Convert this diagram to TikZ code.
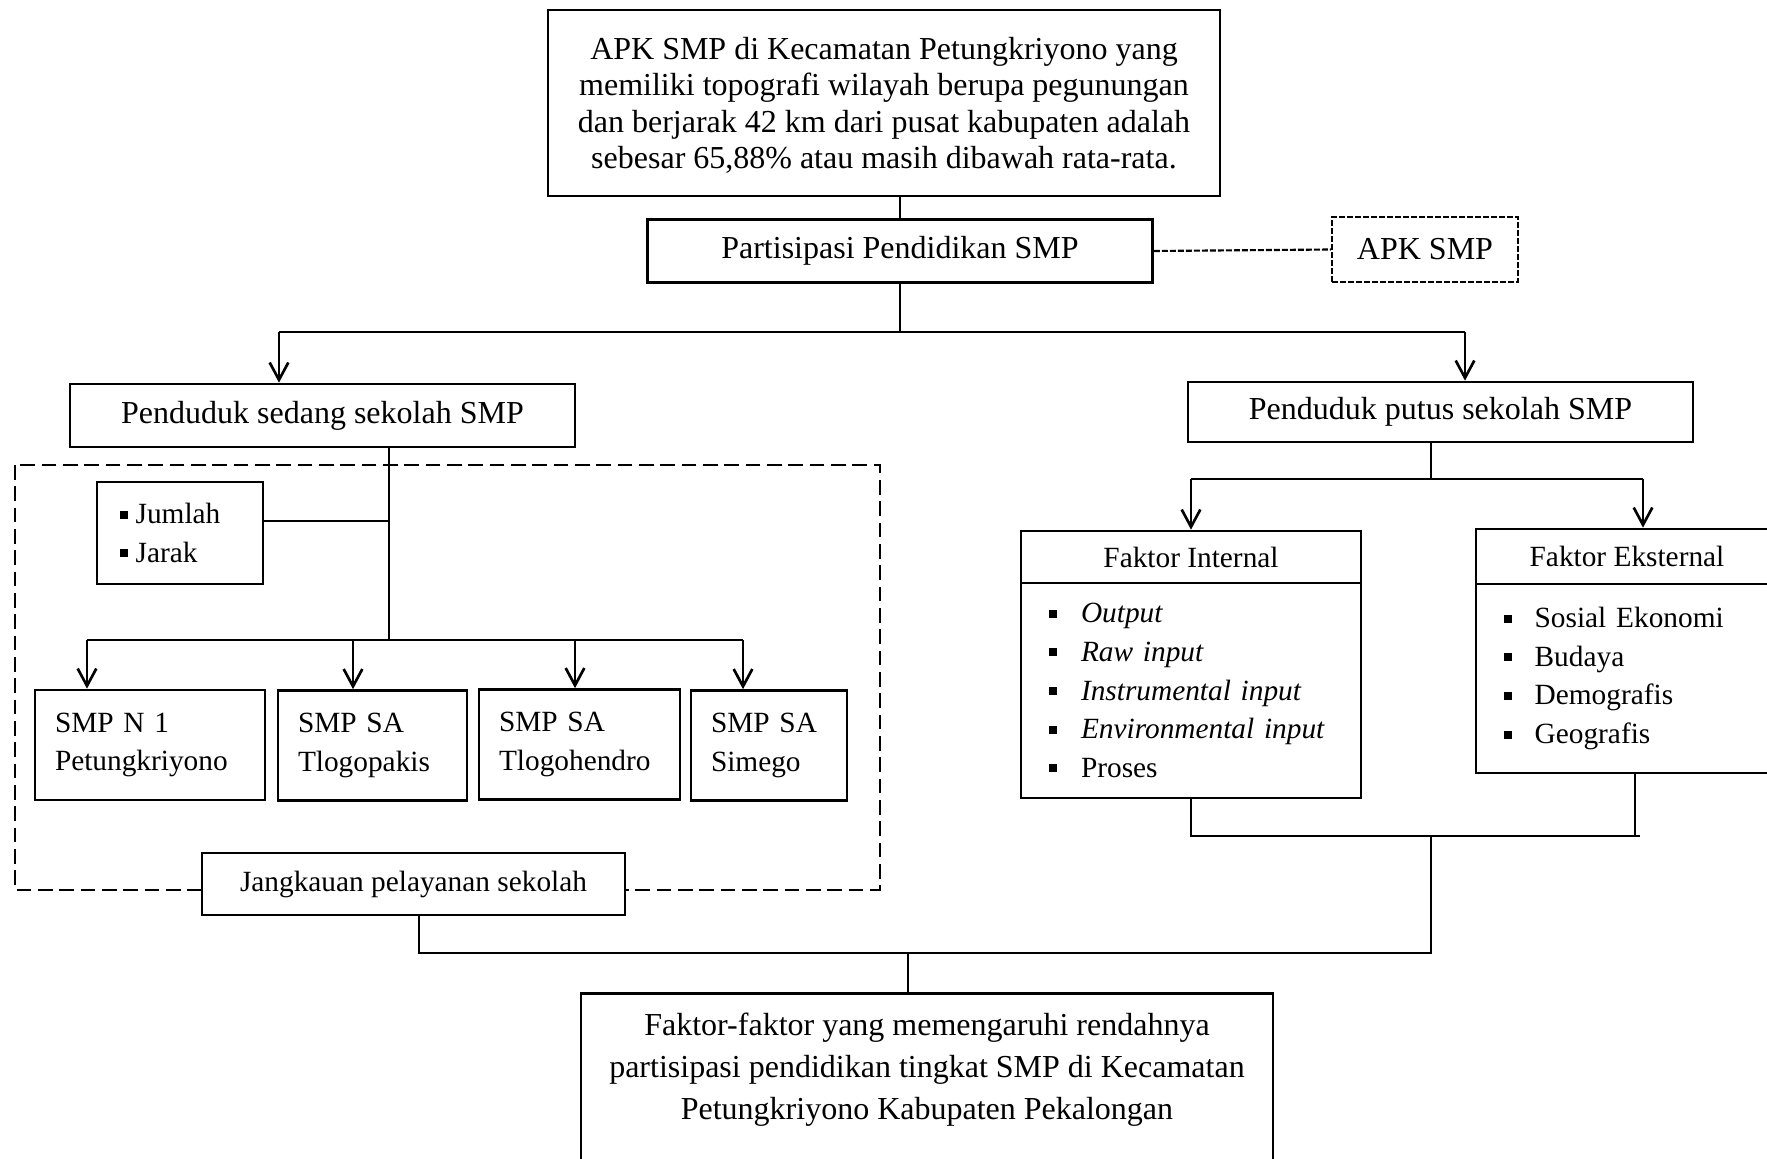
\documentclass[tikz,border=0pt]{standalone}
\usepackage{fontspec}
\setmainfont{Liberation Serif}
\usetikzlibrary{arrows.meta}

\tikzset{every picture/.style={line width=0.75pt}}
\tikzset{
  box/.style={draw, line width=2pt, fill=white, align=center, inner sep=0pt},
  bigtxt/.style={font=\fontsize{24}{26.8}\selectfont},
  smalltxt/.style={font=\fontsize{22}{29}\selectfont},
  leftbox/.style={box, align=left, inner ysep=0pt},
  arr/.style={line width=2pt, -{Straight Barb[length=13pt,width=14pt,line width=2pt]}},
  conn/.style={line width=2pt},
  zone/.style={line width=2pt, dash pattern=on 11pt off 5pt},
  fine/.style={line width=1.6pt, dash pattern=on 4.5pt off 1.5pt},
}
\newcommand{\sqb}[1][24pt]{\makebox[#1][l]{\rule[0.17em]{0.27em}{0.27em}}}

\begin{document}
\begin{tikzpicture}[x=0.75pt,y=0.75pt,yscale=-1,xscale=1]
\useasboundingbox (0,0) rectangle (1767,1159);
\clip (0,0) rectangle (1767,1159);

% service area of the schools
\draw [zone] (15,465) rectangle (880,890);

% upper part
\node [box, font=\fontsize{24}{27.4}\selectfont, minimum width=504pt, minimum height=139.5pt, text depth=-2pt] (top) at (884,103)
  {APK SMP di Kecamatan Petungkriyono yang\\memiliki topografi wilayah berupa pegunungan\\dan berjarak 42 km dari pusat kabupaten adalah\\sebesar 65,88\% atau masih dibawah rata-rata.};
\node [box, bigtxt, minimum width=378.75pt, minimum height=47.25pt] (part) at (900,251) {Partisipasi Pendidikan SMP};
\node [box, bigtxt, fine, minimum width=139.5pt, minimum height=48.75pt] (apk) at (1425,249.5) {APK SMP};
\node [box, bigtxt, minimum width=378.75pt, minimum height=47.25pt] (sedang) at (322.5,415.5) {Penduduk sedang sekolah SMP};
\node [box, bigtxt, minimum width=378.75pt, minimum height=45pt] (putus) at (1440.5,412) {Penduduk putus sekolah SMP};

% left branch
\node [leftbox, smalltxt, inner xsep=17pt, text width=90.5pt, minimum height=76.5pt] (jumlah) at (180,533)
  {\sqb[12pt]Jumlah\\\sqb[12pt]Jarak};
\node [leftbox, smalltxt, inner xsep=15pt, text width=142.5pt, minimum height=82.5pt] (smpa) at (150,745) {SMP N 1\\Petungkriyono};
\node [leftbox, smalltxt, inner xsep=15pt, text width=111.75pt, minimum height=82.5pt] (smpb) at (372.5,745.5) {SMP SA\\Tlogopakis};
\node [leftbox, smalltxt, inner xsep=15pt, text width=120.75pt, minimum height=82.5pt] (smpc) at (579.5,744.5) {SMP SA\\Tlogohendro};
\node [leftbox, smalltxt, inner xsep=15pt, text width=87pt, minimum height=82.5pt] (smpd) at (769,745.5) {SMP SA\\Simego};
\node [box, smalltxt, minimum width=317.25pt, minimum height=46.5pt] (jangk) at (413.5,884) {Jangkauan pelayanan sekolah};

% right branch
\node [box, smalltxt, minimum width=255pt, minimum height=39pt] (intH) at (1191,557) {Faktor Internal};
\node [leftbox, smalltxt, inner xsep=21pt, text width=213pt, minimum height=161.25pt] (intL) at (1191,690.5)
  {\sqb\textit{Output}\\\sqb\textit{Raw input}\\\sqb\textit{Instrumental input}\\\sqb\textit{Environmental input}\\\sqb Proses};
\node [box, smalltxt, minimum width=226.5pt, minimum height=41.25pt] (ekH) at (1627,556.5) {Faktor Eksternal};
\node [leftbox, smalltxt, inner xsep=21pt, text width=184.5pt, minimum height=141.75pt] (ekL) at (1627,678.5)
  {\sqb[23pt]Sosial Ekonomi\\\sqb[23pt]Budaya\\\sqb[23pt]Demografis\\\sqb[23pt]Geografis};

% result
\node [box, font=\fontsize{24}{31.3}\selectfont, minimum width=519pt, inner ysep=15pt, anchor=north] (final) at (927,992)
  {Faktor-faktor yang memengaruhi rendahnya\\partisipasi pendidikan tingkat SMP di Kecamatan\\Petungkriyono Kabupaten Pekalongan\\~};

% junction points
\coordinate (jA) at (900,332);
\coordinate (jL) at (279,332);
\coordinate (jR) at (1465,332);
\coordinate (jS) at (389,640);
\coordinate (jJ) at (389,521);
\coordinate (busL) at (87,640);
\coordinate (busR) at (743,640);
\coordinate (jP) at (1431,479);
\coordinate (pR) at (1643,479);
\coordinate (fR) at (1640,836);
\coordinate (eB) at (1635,836);
\coordinate (mL) at (419,953);
\coordinate (mR) at (1431,953);
\coordinate (mC) at (908,953);

% connectors
\draw [conn] (part.north |- top.south) -- (part.north);
\draw [fine] (part.east) -- (apk.west);
\draw [conn] (part.south) -- (jA);
\draw [conn] (jL) -- (jR);
\draw [arr] (jL) -- (jL |- sedang.north);
\draw [arr] (jR) -- (jR |- putus.north);

\draw [conn] (jS |- sedang.south) -- (jS);
\draw [conn] (jJ -| jumlah.east) -- (jJ);
\draw [conn] (busL) -- (busR);
\foreach \n/\x in {smpa/87, smpb/353, smpc/575, smpd/743}
  \draw [arr] (\x,640) -- (\x,640 |- \n.north);

\draw [conn] (jP |- putus.south) -- (jP);
\draw [conn] (jP -| intH.north) -- (pR);
\draw [arr] (jP -| intH.north) -- (intH.north);
\draw [arr] (pR) -- (pR |- ekH.north);

\draw [conn] (intL.south) |- (fR);
\draw [conn] (eB |- ekL.south) -- (eB);
\draw [conn] (mL |- jangk.south) -- (mL) -- (mR) -- (mR |- fR);
\draw [conn] (mC) -- (mC |- final.north);
\end{tikzpicture}
\end{document}
